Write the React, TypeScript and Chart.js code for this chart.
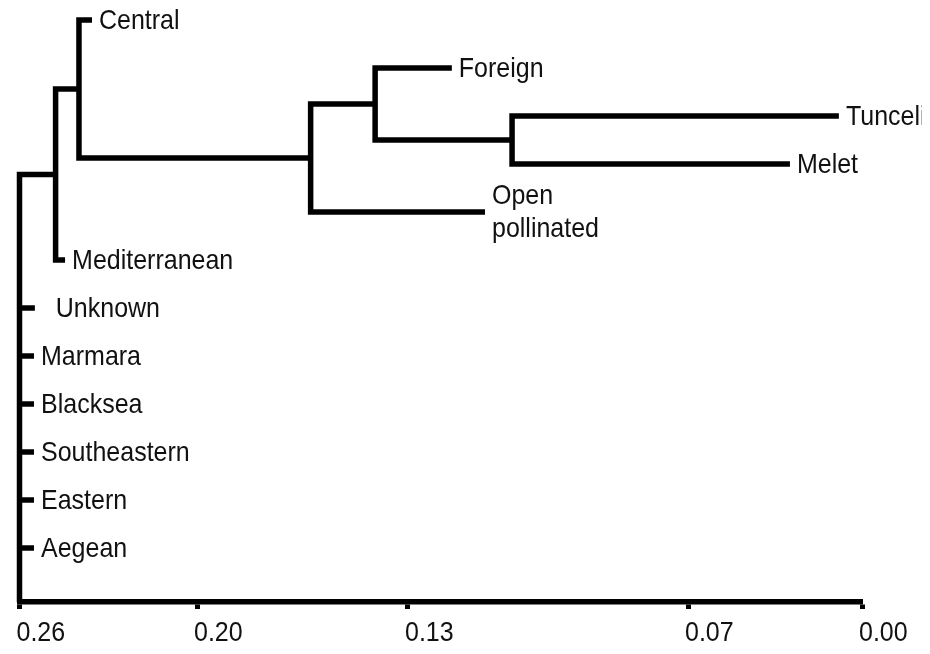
import React, { useEffect, useRef } from "react";
import { Chart, registerables } from "chart.js";

Chart.register(...registerables);

// ---- data ----
// leaves, top to bottom
const LEAF_NAMES = [
  "Central",
  "Foreign",
  "Tunceli",
  "Melet",
  "Open\npollinated",
  "Mediterranean",
  "  Unknown",
  "Marmara",
  "Blacksea",
  "Southeastern",
  "Eastern",
  "Aegean",
];
// distance at which each leaf branch ends
const LEAF_HEIGHTS = [0.2355, 0.1206, 0.0093, 0.029, 0.1135, 0.2446, 0.2548, 0.2551, 0.2551, 0.2551, 0.2551, 0.2551];

// internal nodes (merges)
const NODE_IDS = ["A", "B", "C", "D", "E", "root"];
const NODE_CHILDREN = [
  ["Tunceli", "Melet"],
  ["Foreign", "A"],
  ["B", "Open\npollinated"],
  ["Central", "C"],
  ["D", "Mediterranean"],
  ["E", "  Unknown", "Marmara", "Blacksea", "Southeastern", "Eastern", "Aegean"],
];
const NODE_HEIGHTS = [0.1077, 0.1409, 0.1623, 0.2399, 0.2478, 0.26];

// axis ticks
const TICK_VALUES = [0.26, 0.2, 0.13, 0.07, 0.0];
const TICK_LABELS = ["0.26", "0.20", "0.13", "0.07", "0.00"];
// relative positions of the ticks along the (non-uniform) axis
const TICK_FRACTIONS = [0, 0.2107, 0.4611, 0.7935, 1];

const Y_MIN = -0.25;
const Y_MAX = 12.125;
const FONT = "'Liberation Sans', Arial, sans-serif";
const TEXT_COLOR = "#111";
const STRETCH = 1.12;

// map a distance to the axis fraction (piecewise between the labelled ticks)
function toAxis(d: number): number {
  for (let i = 0; i < TICK_VALUES.length - 1; i++) {
    const a = TICK_VALUES[i];
    const b = TICK_VALUES[i + 1];
    if (d <= a && d >= b) {
      const t = (a - d) / (a - b);
      return TICK_FRACTIONS[i] + t * (TICK_FRACTIONS[i + 1] - TICK_FRACTIONS[i]);
    }
  }
  return d > TICK_VALUES[0] ? 0 : 1;
}

function buildLayout() {
  const pos: Record<string, { h: number; y: number }> = {};
  LEAF_NAMES.forEach((n, i) => (pos[n] = { h: LEAF_HEIGHTS[i], y: i }));
  const segments: { x: number; y: number }[][] = [];
  NODE_IDS.forEach((id, k) => {
    const kids = NODE_CHILDREN[k].map((c) => pos[c]);
    const h = NODE_HEIGHTS[k];
    if (id !== "root") {
      const c1 = kids[0];
      const c2 = kids[kids.length - 1];
      segments.push([
        { x: toAxis(c1.h), y: c1.y },
        { x: toAxis(h), y: c1.y },
        { x: toAxis(h), y: c2.y },
        { x: toAxis(c2.h), y: c2.y },
      ]);
      pos[id] = { h, y: (c1.y + c2.y) / 2 };
    } else {
      const c1 = kids[0];
      segments.push([
        { x: toAxis(c1.h), y: c1.y },
        { x: toAxis(h), y: c1.y },
        { x: toAxis(h), y: Y_MAX },
      ]);
      kids.slice(1).forEach((c) => {
        segments.push([
          { x: toAxis(c.h), y: c.y },
          { x: toAxis(h), y: c.y },
        ]);
      });
      pos[id] = { h, y: c1.y };
    }
  });
  return { pos, segments };
}

function drawStretched(ctx: CanvasRenderingContext2D, text: string, x: number, y: number) {
  ctx.save();
  ctx.translate(x, y);
  ctx.scale(1, STRETCH);
  ctx.fillText(text, 0, 0);
  ctx.restore();
}

const labelPlugin = {
  id: "dendroLabels",
  afterDraw(chart: any) {
    const ctx = chart.ctx as CanvasRenderingContext2D;
    const xs = chart.scales.x;
    const ys = chart.scales.y;
    ctx.save();
    ctx.font = `25px ${FONT}`;
    ctx.fillStyle = TEXT_COLOR;
    ctx.textAlign = "left";
    ctx.textBaseline = "middle";
    // leaf labels
    LEAF_NAMES.forEach((name, i) => {
      const px = xs.getPixelForValue(toAxis(LEAF_HEIGHTS[i])) + 7;
      const py = ys.getPixelForValue(i) + 1;
      const lines = name.split("\n");
      const lh = 33;
      lines.forEach((ln, j) => {
        const off = (j - (lines.length - 1) / 2) * lh;
        drawStretched(ctx, ln, px, py + off);
      });
    });
    // tick labels
    const base = xs.top + 31;
    xs.ticks.forEach((_t: any, i: number) => {
      const px = xs.getPixelForTick(i) - 3;
      drawStretched(ctx, TICK_LABELS[i], px, base);
    });
    ctx.restore();
  },
};

export default function App() {
  const ref = useRef<HTMLCanvasElement>(null);
  useEffect(() => {
    if (!ref.current) return;
    const { segments } = buildLayout();
    const chart = new Chart(ref.current, {
      type: "scatter",
      data: {
        datasets: segments.map((seg) => ({
          data: seg,
          showLine: true,
          pointRadius: 0,
          borderColor: "#000",
          borderWidth: 5.5,
          borderJoinStyle: "miter" as const,
          borderCapStyle: "butt" as const,
          tension: 0,
          clip: false as any,
        })),
      },
      options: {
        animation: false,
        responsive: true,
        maintainAspectRatio: false,
        layout: { padding: { left: 19.5, right: 68, top: 8, bottom: 45 } },
        plugins: { legend: { display: false }, tooltip: { enabled: false } },
        scales: {
          x: {
            type: "linear",
            min: 0,
            max: 1,
            afterBuildTicks: (scale: any) => {
              scale.ticks = TICK_FRACTIONS.map((v) => ({ value: v }));
            },
            ticks: {
              display: false,
              autoSkip: false,
              maxRotation: 0,
            },
            grid: {
              display: true,
              drawOnChartArea: false,
              drawTicks: true,
              tickLength: 7,
              tickWidth: 5,
              color: "#000",
            },
            border: { display: true, width: 5.5, color: "#000" },
          },
          y: {
            type: "linear",
            display: false,
            reverse: true,
            min: Y_MIN,
            max: Y_MAX,
          },
        },
      },
      plugins: [labelPlugin],
    });
    return () => chart.destroy();
  }, []);
  return (
    <div style={{ width: 930, height: 654, margin: "-8px 0 0 -8px", position: "relative" }}>
      <canvas ref={ref} />
    </div>
  );
}
